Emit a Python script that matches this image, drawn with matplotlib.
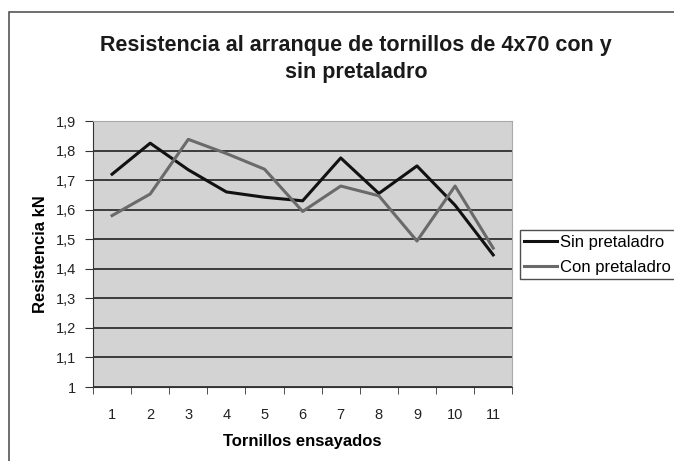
import matplotlib.pyplot as plt
from matplotlib.patches import Rectangle

# Datos
tornillos = ['1', '2', '3', '4', '5', '6', '7', '8', '9', '10', '11']
sin_pretaladro = [1.72, 1.825, 1.735, 1.66, 1.642, 1.63, 1.775, 1.655, 1.748, 1.615, 1.447]
con_pretaladro = [1.58, 1.653, 1.838, 1.79, 1.737, 1.594, 1.68, 1.647, 1.494, 1.68, 1.47]
y_ticks = [1.0, 1.1, 1.2, 1.3, 1.4, 1.5, 1.6, 1.7, 1.8, 1.9]
y_labels = ['1', '1,1', '1,2', '1,3', '1,4', '1,5', '1,6', '1,7', '1,8', '1,9']

plt.rcParams['font.family'] = ['Liberation Sans', 'DejaVu Sans']

fig = plt.figure(figsize=(6.74, 4.61), dpi=100)
ax = fig.add_axes([0.138, 0.1605, 0.622, 0.577])

# Marco exterior del gráfico
fig.patches.append(Rectangle((0.014, -0.02), 1.0, 0.994, transform=fig.transFigure,
                             fill=False, edgecolor='#555555', linewidth=1.2))

x = list(range(len(tornillos)))
ax.set_facecolor('#d3d3d3')
ax.plot(x, sin_pretaladro, color='#111111', linewidth=2.2, label='Sin pretaladro')
ax.plot(x, con_pretaladro, color='#6a6a6a', linewidth=2.2, label='Con pretaladro')

ax.set_xlim(-0.5, len(tornillos) - 0.5)
ax.set_ylim(1.0, 1.9)
ax.set_yticks(y_ticks)
ax.set_yticklabels(y_labels, fontsize=10.5, color='#222222')
ax.set_xticks(x)
ax.set_xticklabels(tornillos, fontsize=10.5, color='#222222')
ax.set_xticks([i - 0.5 for i in range(len(tornillos) + 1)], minor=True)
ax.tick_params(axis='x', which='major', length=0, pad=15)
ax.tick_params(axis='x', which='minor', length=5, color='#333333')
ax.tick_params(axis='y', length=6, color='#333333', pad=6)
ax.grid(axis='y', color='#222222', linewidth=1.2)
ax.set_axisbelow(True)

for s in ['top', 'right']:
    ax.spines[s].set_color('#aaaaaa')
for s in ['left', 'bottom']:
    ax.spines[s].set_color('#333333')

ax.set_xlabel('Tornillos ensayados', fontsize=12, fontweight='bold', labelpad=9)
ax.set_ylabel('Resistencia kN', fontsize=12, fontweight='bold', labelpad=6)
fig.text(0.528, 0.902, 'Resistencia al arranque de tornillos de 4x70 con y', ha='center',
         va='center', fontsize=15.5, fontweight='semibold', color='#1a1a1a')
fig.text(0.528, 0.843, 'sin pretaladro', ha='center', va='center', fontsize=15.5,
         fontweight='semibold', color='#1a1a1a')

leg = ax.legend(loc='center left', bbox_to_anchor=(1.018, 0.497), frameon=True,
                fancybox=False, fontsize=12, handlelength=2.0, handletextpad=0.15,
                borderpad=0.25, labelspacing=0.62, borderaxespad=0)
leg.get_frame().set_edgecolor('#222222')
leg.get_frame().set_linewidth(1.0)

fig.savefig('out.png', dpi=100)
